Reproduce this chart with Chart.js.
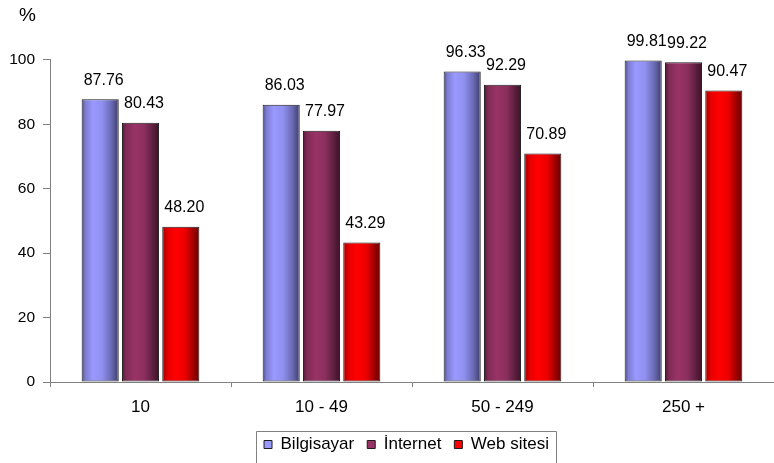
<!DOCTYPE html>
<html>
<head>
<meta charset="utf-8">
<script src="https://cdn.jsdelivr.net/npm/chart.js@4/dist/chart.umd.min.js"></script>
<style>
  html, body { margin: 0; padding: 0; background: #ffffff; overflow: hidden; }
  #wrap { width: 774px; height: 463px; }
</style>
</head>
<body>
<div id="wrap"><canvas id="c" width="774" height="463"></canvas></div>
<script>
// Firm size groups (number of employees)
const categories = ['10', '10 - 49', '50 - 249', '250 +'];

// Share of firms (%) using each technology
const seriesNames = ['Bilgisayar', 'İnternet', 'Web sitesi'];
const bilgisayar = [87.76, 86.03, 96.33, 99.81];
const internet   = [80.43, 77.97, 92.29, 99.22];
const webSitesi  = [48.20, 43.29, 70.89, 90.47];

const yTicks = [0, 20, 40, 60, 80, 100];

const FONT = '"Liberation Sans", Arial, Helvetica, sans-serif';

// Base fill of each series and the horizontal shading used on the bars
const baseColors = ['#9999ff', '#993366', '#ff0000'];
const shades = [
  [[0, '#50508a'], [0.1, '#7c7cd0'], [0.3, '#9999ff'], [0.55, '#9090f0'], [0.8, '#6a6ab4'], [0.94, '#4a4a80'], [1, '#55558e']],
  [[0, '#551c39'], [0.12, '#822b56'], [0.35, '#993366'], [0.6, '#8c2f5e'], [0.84, '#5c1f3e'], [0.95, '#451530'], [1, '#4e1a36']],
  [[0, '#a00000'], [0.15, '#e80000'], [0.38, '#ff0000'], [0.62, '#ec0000'], [0.86, '#960000'], [0.96, '#780000'], [1, '#800000']]
];

// Paints every bar with a left-to-right gradient across its own width
const barShade = {
  id: 'barShade',
  beforeDatasetDraw(chart, args) {
    const stops = shades[args.index];
    args.meta.data.forEach(bar => {
      const half = bar.width / 2;
      const g = chart.ctx.createLinearGradient(bar.x - half, 0, bar.x + half, 0);
      stops.forEach(([p, c]) => g.addColorStop(p, c));
      bar.options = Object.assign({}, bar.options, { backgroundColor: g });
    });
  }
};

// Value printed above each bar
const valueLabels = {
  id: 'valueLabels',
  afterDatasetsDraw(chart) {
    const ctx = chart.ctx;
    ctx.save();
    ctx.font = '16px ' + FONT;
    ctx.fillStyle = '#000000';
    ctx.textAlign = 'center';
    ctx.textBaseline = 'middle';
    chart.data.datasets.forEach((ds, di) => {
      chart.getDatasetMeta(di).data.forEach((bar, i) => {
        ctx.fillText(ds.data[i].toFixed(2), bar.x + 3.5, bar.y - 19);
      });
    });
    ctx.restore();
  }
};

// Places the "%" caption and nudges the legend, then outlines the legend
const frameAndCaption = {
  id: 'frameAndCaption',
  afterLayout(chart) {
    chart.titleBlock.left = 19;
    chart.legend.right -= 11;
  },
  afterDraw(chart) {
    const lg = chart.legend;
    const boxes = lg.legendHitBoxes;
    if (!boxes || !boxes.length) return;
    const first = boxes[0];
    const last = boxes[boxes.length - 1];
    const ctx = chart.ctx;
    ctx.save();
    ctx.strokeStyle = '#808080';
    ctx.lineWidth = 1;
    const x0 = Math.round(first.left - 8) + 0.5;
    const x1 = Math.round(last.left + last.width + 7) + 0.5;
    const y0 = Math.round(lg.top + 8) + 0.5;
    ctx.beginPath();
    ctx.moveTo(x0, chart.height + 5);
    ctx.lineTo(x0, y0);
    ctx.lineTo(x1, y0);
    ctx.lineTo(x1, chart.height + 5);
    ctx.stroke();
    ctx.restore();
  }
};

const seriesData = [bilgisayar, internet, webSitesi];

new Chart(document.getElementById('c'), {
  type: 'bar',
  data: {
    labels: categories,
    datasets: seriesNames.map((name, i) => ({
      label: name,
      data: seriesData[i],
      backgroundColor: baseColors[i],
      borderColor: '#1c1c1c',
      borderWidth: 1,
      borderSkipped: false,
      categoryPercentage: 0.668,
      barPercentage: 0.92
    }))
  },
  options: {
    responsive: false,
    animation: false,
    events: [],
    layout: { padding: { left: 0, right: 0, top: 0, bottom: 0 } },
    scales: {
      x: {
        grid: {
          display: true,
          drawOnChartArea: false,
          drawTicks: true,
          tickLength: 5,
          color: '#808080',
          offset: true
        },
        border: { display: true, color: '#808080', width: 1 },
        ticks: {
          color: '#000000',
          font: { family: FONT, size: 17 },
          padding: 10,
          maxRotation: 0
        },
        afterFit(scale) { scale.height = 41; }
      },
      y: {
        min: 0,
        max: 100,
        afterBuildTicks(scale) { scale.ticks = yTicks.map(v => ({ value: v })); },
        grid: {
          display: true,
          drawOnChartArea: false,
          drawTicks: true,
          tickLength: 7,
          color: '#808080'
        },
        border: { display: true, color: '#808080', width: 1 },
        ticks: {
          color: '#000000',
          font: { family: FONT, size: 15.5 },
          padding: 8
        },
        afterFit(scale) { scale.width = 50; }
      }
    },
    plugins: {
      title: {
        display: true,
        text: '%',
        align: 'start',
        color: '#000000',
        font: { family: FONT, size: 19, weight: 'normal' },
        padding: { top: 4, bottom: 33 }
      },
      legend: {
        display: true,
        position: 'bottom',
        fullSize: false,
        align: 'center',
        labels: {
          color: '#000000',
          font: { family: FONT, size: 17 },
          boxWidth: 8,
          boxHeight: 8,
          padding: 13
        }
      },
      tooltip: { enabled: false }
    }
  },
  plugins: [barShade, valueLabels, frameAndCaption]
});
</script>
</body>
</html>
